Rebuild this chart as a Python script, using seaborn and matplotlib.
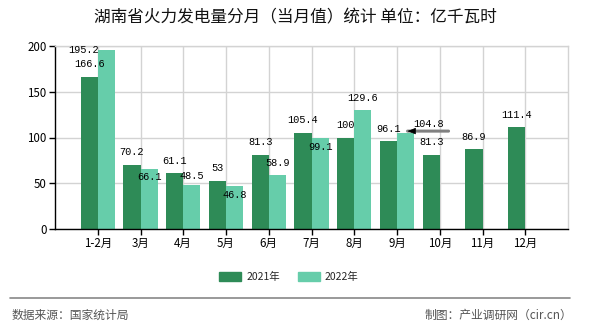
import numpy as np
import pandas as pd
import matplotlib
matplotlib.use("Agg")
import matplotlib.pyplot as plt
import matplotlib.transforms as mtransforms
from matplotlib.lines import Line2D
import seaborn as sns

# ---- data ----
months = ["1-2月", "3月", "4月", "5月", "6月", "7月", "8月", "9月", "10月", "11月", "12月"]
series_names = ["2021年", "2022年"]
vals_2021 = [166.6, 70.2, 61.1, 53, 81.3, 105.4, 100, 96.1, 81.3, 86.9, 111.4]
vals_2022 = [195.2, 66.1, 48.5, 46.8, 58.9, 99.1, 129.6, 104.8, None, None, None]
y_ticks = [0, 50, 100, 150, 200]

# label offsets (pixels) relative to bar top
off_2021 = [(0, 12.5)] * len(vals_2021)
off_2022 = [(-23, 0), (0, -8.5), (0, 9), (0, -9), (0, 12), (0, -9), (0, 12), (23, 9)]

sns.set_theme(style="white")
plt.rcParams["font.family"] = ["Noto Sans CJK SC", "DejaVu Sans"]

rows = []
for m, a, b in zip(months, vals_2021, vals_2022):
    rows.append({"month": m, "year": series_names[0], "value": a})
    rows.append({"month": m, "year": series_names[1], "value": np.nan if b is None else b})
df = pd.DataFrame(rows)

fig = plt.figure(figsize=(5.9, 3.3), dpi=100)
ax = fig.add_axes([55 / 590, 1 - 229 / 330, (568 - 55) / 590, (229 - 46) / 330])

colors = ["#2e8b57", "#66cdaa"]
sns.barplot(data=df, x="month", y="value", hue="year", hue_order=series_names,
            palette=colors, width=0.8, saturation=1, errorbar=None, ax=ax,
            legend=False, zorder=2, linewidth=0, edgecolor="none")

ax.set_xlim(-1, len(months))
ax.set_ylim(0, 200)
ax.set_yticks(y_ticks)
ax.set_xticks(range(len(months)))
ax.set_xticklabels(months)
ax.set_xticks([-1, len(months)], minor=True)
ax.set_xlabel("")
ax.set_ylabel("")

ax.grid(True, which="major", color="#d3d3d3", linewidth=1, zorder=0)
ax.set_axisbelow(True)
for s in ["top", "right"]:
    ax.spines[s].set_color("#d3d3d3")
    ax.spines[s].set_linewidth(1)
for s in ["left", "bottom"]:
    ax.spines[s].set_color("black")
    ax.spines[s].set_linewidth(1)
ax.tick_params(axis="both", which="both", direction="out", length=4, width=1,
               color="black", labelsize=8.3, labelcolor="black", pad=2)
ax.tick_params(axis="y", left=True)
ax.tick_params(axis="x", bottom=True)

lab_font = dict(family="Liberation Mono", fontsize=7.4, color="black")
for i, (v, (ox, oy)) in enumerate(zip(vals_2021, off_2021)):
    ax.annotate(f"{v:g}", xy=(i - 0.2, v), xytext=(ox, oy), textcoords="offset pixels",
                ha="center", va="center", zorder=5, **lab_font)
for i, (v, (ox, oy)) in enumerate(zip(vals_2022, off_2022)):
    if v is None:
        continue
    ax.annotate(f"{v:g}", xy=(i + 0.2, v), xytext=(ox, oy), textcoords="offset pixels",
                ha="center", va="center", zorder=5, **lab_font)

# leader arrow for the 9月 2022 label
k = 7
tip = mtransforms.offset_copy(ax.transData, fig=fig, x=2, y=2, units="dots")
ax.annotate("", xy=(k + 0.2, vals_2022[k]), xycoords=tip, xytext=(41, 0),
            textcoords="offset pixels",
            arrowprops=dict(arrowstyle="-", color="#808080", lw=2.2,
                            shrinkA=0, shrinkB=0), zorder=6)
ax.annotate("", xy=(k + 0.2, vals_2022[k]), xycoords=tip, xytext=(7, 0),
            textcoords="offset pixels",
            arrowprops=dict(arrowstyle="-|>,head_length=0.5,head_width=0.2",
                            color="black", lw=0.5, shrinkA=0, shrinkB=0,
                            mutation_scale=10), zorder=7)

# legend
handles = [plt.Rectangle((0, 0), 1, 1, color=c) for c in colors]
fig.legend(handles, series_names, loc="center", bbox_to_anchor=(0.49, 1 - 277 / 330),
           ncol=2, frameon=False, fontsize=7.5, handlelength=2.1, handleheight=0.85,
           handletextpad=0.5, columnspacing=1.7)

# title
fig.text(0.5, 1 - 18 / 330, "湖南省火力发电量分月（当月值）统计 单位：亿千瓦时",
         ha="center", va="center", fontsize=12, color="#111111")

# separator + footer
fig.add_artist(Line2D([10 / 590, 570 / 590], [1 - 298 / 330, 1 - 298 / 330],
                      transform=fig.transFigure, color="#888888", lw=1.2))
fig.text(12 / 590, 1 - 315 / 330, "数据来源：国家统计局", ha="left", va="center",
         fontsize=8.5, color="#555555")
fig.text(572 / 590, 1 - 315 / 330, "制图：产业调研网（cir.cn）", ha="right", va="center",
         fontsize=8.5, color="#555555")

fig.savefig("out.png", dpi=100)
